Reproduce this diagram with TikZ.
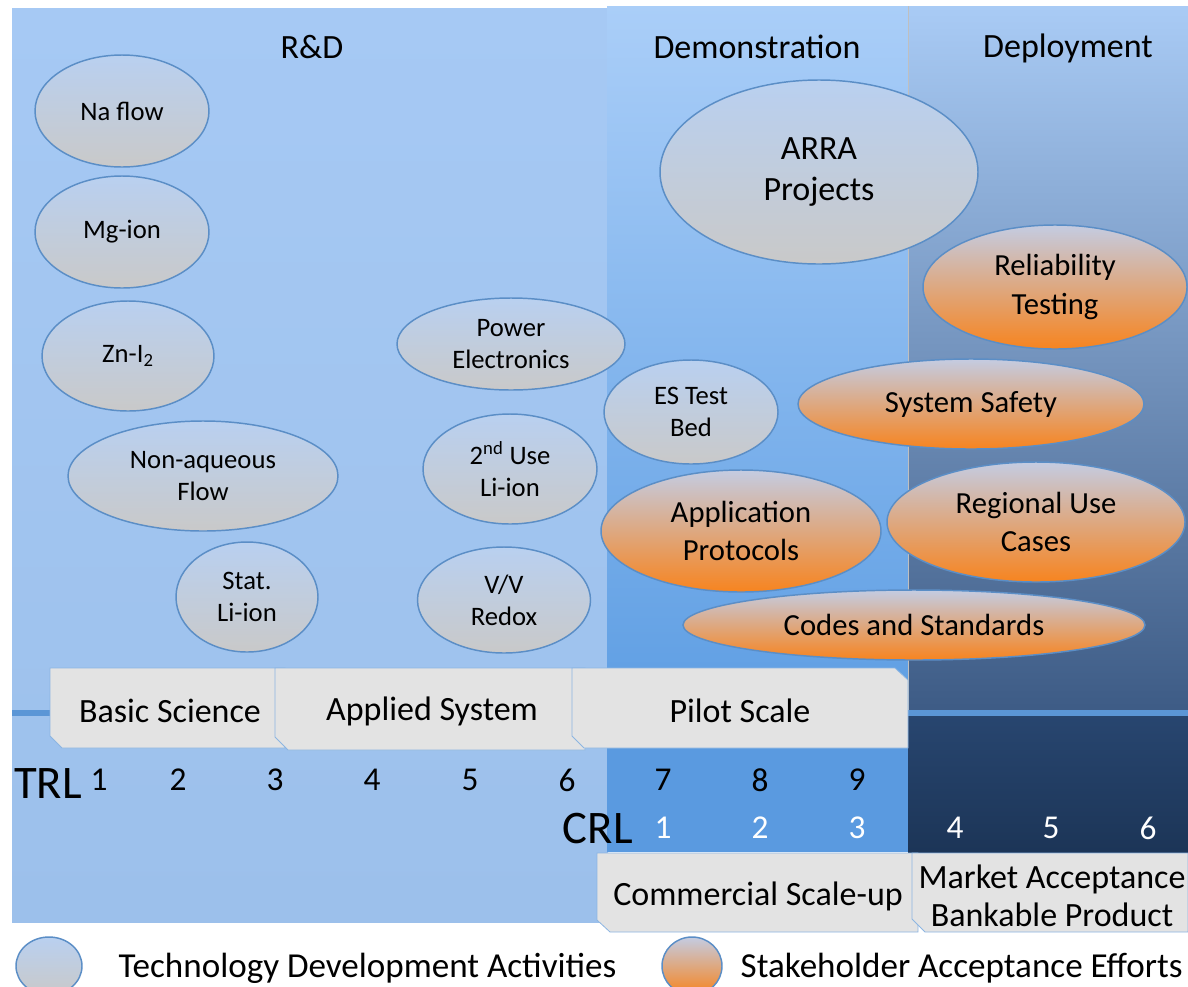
\documentclass[tikz,border=0pt]{standalone}
\usepackage{fontspec}
\setmainfont{Carlito}
\usepackage{tikz}
\usetikzlibrary{shapes.geometric}
\usetikzlibrary{positioning}

\definecolor{rdblue}{HTML}{A6C9F4}
\definecolor{rdblueb}{HTML}{9CC0EB}
\definecolor{demotop}{HTML}{AACEF8}
\definecolor{demobot}{HTML}{5E9EE3}
\definecolor{demoband}{HTML}{5A9AE0}
\definecolor{deptop}{HTML}{A9CBF5}
\definecolor{depbot}{HTML}{3D5B85}
\definecolor{depbandtop}{HTML}{284670}
\definecolor{depbandbot}{HTML}{1C3557}
\definecolor{lineblue}{HTML}{5B96D6}
\definecolor{rimblue}{HTML}{5B8EC6}
\definecolor{boxgray}{HTML}{E3E3E3}
\definecolor{ovaltop}{HTML}{B9D0F0}
\definecolor{ovalbot}{HTML}{C9C9C9}
\definecolor{orgtop}{HTML}{C4CCE2}
\definecolor{orgbot}{HTML}{F7841F}

\begin{document}
\begin{tikzpicture}[x=0.75pt,y=0.75pt,yscale=-1,xscale=1]
  \useasboundingbox (0,0) rectangle (1188,986); %keep the 1188 x 986 frame
  \tikzstyle{techoval} = [ellipse, draw=rimblue, line width=1.1pt, inner sep=0pt,
     top color=ovaltop, bottom color=ovalbot, align=center, font=\fontsize{20}{24}\selectfont]
  \tikzstyle{stakeoval} = [ellipse, draw=rimblue, line width=1.1pt, inner sep=0pt,
     top color=orgtop, bottom color=orgbot, align=center, font=\fontsize{23}{29}\selectfont]
  \tikzstyle{stagebox} = [fill=boxgray, draw=lineblue!70, line width=0.6pt]
  \tikzstyle{phase} = [font=\fontsize{25.5}{30}\selectfont]
  \tikzstyle{keytext} = [font=\fontsize{26.3}{30}\selectfont]
  \tikzstyle{lvl} = [font=\fontsize{25}{30}\selectfont]
  \tikzstyle{lvlname} = [font=\fontsize{35}{38}\selectfont, inner sep=0pt]
  %Draw the three phase panels
  \shade[top color=rdblue, bottom color=rdblueb] (12,8) rectangle (608,922);
  \shade[top color=demotop, bottom color=demobot] (607,6) rectangle (908,713);
  \fill[demoband] (607,713) rectangle (908,852);
  \shade[top color=deptop, bottom color=depbot] (908,6) rectangle (1188,713);
  \shade[top color=depbandtop, bottom color=depbandbot] (908,713) rectangle (1188,852);
  \draw[black!25, line width=0.4pt] (908,6) -- (908,713);
  %Draw the level line
  \draw[lineblue, line width=4.5pt] (12,713) -- (1188,713);
  % Label the phases
  \node[phase] (rd) at (312,47) {R\&D};
  \node[phase] (demo) at (757,47) {Demonstration};
  \node[phase] (deploy) at (1068,48) {Deployment};
  %Draw technology ovals (sizes in px, times 0.75 for pt)
  \node[techoval, minimum width=174*0.75, minimum height=112*0.75] (naflow) at (122,111) {Na flow};
  \node[techoval, minimum width=174*0.75, minimum height=112*0.75] (mgion) at (122,232) {Mg-ion};
  \node[techoval, minimum width=172*0.75, minimum height=110*0.75] (zni) at (128,356) {Zn-I\textsubscript{2}};
  \node[techoval, minimum width=270*0.75, minimum height=110*0.75] (nonaq) at (203,476) {Non-aqueous\\Flow};
  \node[techoval, minimum width=142*0.75, minimum height=110*0.75] (statli) at (247,597) {Stat.\\Li-ion};
  \node[techoval, minimum width=228*0.75, minimum height=92*0.75] (power) at (511,344) {Power\\Electronics};
  \node[techoval, minimum width=174*0.75, minimum height=110*0.75] (secli) at (510,469) {2\textsuperscript{nd} Use\\Li-ion};
  \node[techoval, minimum width=173*0.75, minimum height=106*0.75] (vvredox) at (504,600) {V/V\\Redox};
  \node[techoval, minimum width=318*0.75, minimum height=184*0.75, font=\fontsize{25.5}{30.5}\selectfont] (arra) at (819,172) {ARRA\\Projects};
  \node[techoval, minimum width=174*0.75, minimum height=104*0.75] (estest) at (691,412) {ES Test\\Bed};
  %Draw stakeholder ovals
  \node[stakeoval, minimum width=264*0.75, minimum height=124*0.75] (reliab) at (1055,287) {Reliability\\Testing};
  \node[stakeoval, minimum width=346*0.75, minimum height=90*0.75] (safety) at (971,404) {System Safety};
  \node[stakeoval, minimum width=280*0.75, minimum height=122*0.75] (appprot) at (741,531) {Application\\Protocols};
  \node[stakeoval, minimum width=298*0.75, minimum height=120*0.75] (regional) at (1036,522) {Regional Use\\Cases};
  \node[stakeoval, minimum width=462*0.75, minimum height=70*0.75] (codes) at (914,625) {Codes and Standards};
  %Draw the stage boxes
  \draw[stagebox] (50,668) -- (285,668) -- (285,748) -- (62,748) -- (50,736) -- cycle;
  \draw[stagebox] (275,668) -- (585,668) -- (585,750) -- (288,750) -- (275,737) -- cycle;
  \draw[stagebox] (572,668) -- (895,668) -- (908,680) -- (908,748) -- (584,748) -- (572,736) -- cycle;
  \draw[stagebox] (597,853) -- (918,853) -- (918,932) -- (610,932) -- (597,920) -- cycle;
  \draw[stagebox] (912,853) -- (1188,853) -- (1188,932) -- (925,932) -- (912,919) -- cycle;
  \node[phase] (basic) at (170,711) {Basic Science};
  \node[phase] (applied) at (432,711) {Applied System};
  \node[phase] (pilot) at (740,711) {Pilot Scale};
  \node[phase] (scaleup) at (758,896) {Commercial Scale-up};
  \node[phase, align=center, font=\fontsize{25.5}{28.5}\selectfont] (market) at (1052,896) {Market Acceptance\\Bankable Product};
  % Label the readiness levels
  \node[lvlname, anchor=west] (trl) at (14,784) {TRL};
  \node[lvlname, anchor=east] (crl) at (633,829) {CRL};
  \foreach \n/\x in {1/99,2/178,3/275,4/372,5/470,6/567,7/663,8/760,9/857}
    \node[lvl] (trl\n) at (\x,780) {\n};
  \foreach \n/\x in {1/663,2/760,3/857,4/955,5/1051,6/1148}
    \node[lvl, text=white] (crl\n) at (\x,828) {\n};
  %Draw the legend
  \node[techoval, minimum width=66*0.75, minimum height=58*0.75] (techkey) at (49,966) {};
  \node[stakeoval, minimum width=60*0.75, minimum height=58*0.75] (stakekey) at (692,966) {};
  \node[keytext, anchor=west] (techtext) at (114,968) {Technology Development Activities};
  \node[keytext, anchor=west] (staketext) at (736,968) {Stakeholder Acceptance Efforts};
\end{tikzpicture}
\end{document}
